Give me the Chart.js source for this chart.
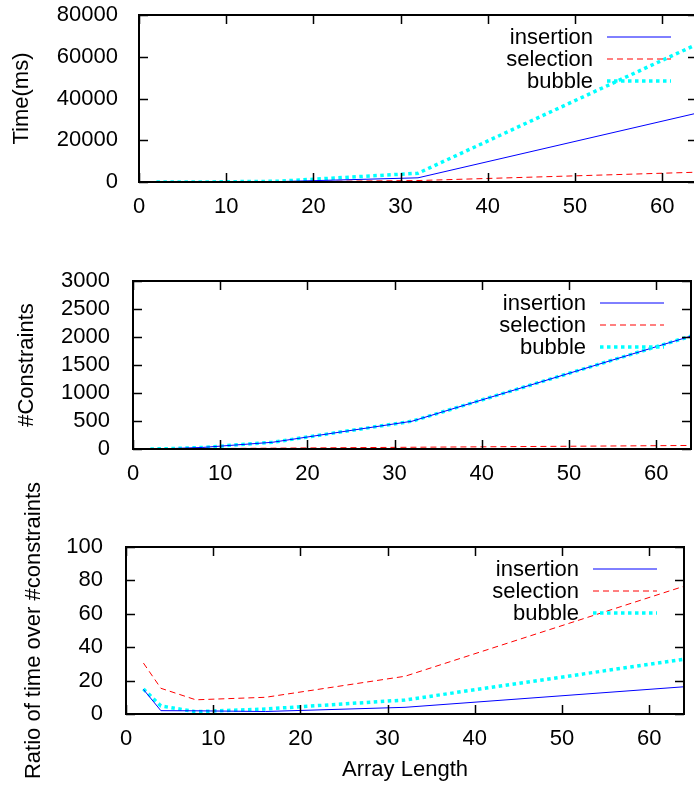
<!DOCTYPE html>
<html>
<head>
<meta charset="utf-8">
<script src="https://cdn.jsdelivr.net/npm/chart.js@4.4.1/dist/chart.umd.min.js"></script>
<style>
  html, body { margin: 0; padding: 0; background: #fff; width: 694px; height: 788px; overflow: hidden; }
  .panel { position: absolute; left: 0; }
</style>
</head>
<body>
<canvas id="c1" class="panel" style="top:0px" width="700" height="240"></canvas>
<canvas id="c2" class="panel" style="top:250px" width="700" height="240"></canvas>
<canvas id="c3" class="panel" style="top:460px" width="700" height="328"></canvas>
<script>
// array lengths on the x axis
const arrayLength = [2, 4, 8, 16, 32, 64];
const seriesNames = ['insertion', 'selection', 'bubble'];

// time (ms)
const timeInsertion = [15, 12, 56, 180, 2000, 33000];
const timeSelection = [30, 46, 59, 150, 700, 4700];
const timeBubble = [15, 29, 40, 360, 4200, 66000];

// #constraints
const consInsertion = [1, 6, 28, 120, 496, 2016];
const consSelection = [1, 3, 7, 15, 31, 63];
const consBubble = [1, 6, 28, 120, 496, 2016];

// ratio of time over #constraints
const ratioInsertion = [14.7, 2, 1.9, 1.5, 4, 16.3];
const ratioSelection = [30.5, 15.4, 8.5, 10, 22.6, 76.5];
const ratioBubble = [15, 4.8, 1.4, 3, 8.4, 32.8];

const xTicks = [0, 10, 20, 30, 40, 50, 60];
const xRange = [0, 64];
const timeTicks = [0, 20000, 40000, 60000, 80000];
const consTicks = [0, 500, 1000, 1500, 2000, 2500, 3000];
const ratioTicks = [0, 20, 40, 60, 80, 100];

const FONT = { family: '"Liberation Sans", Arial, sans-serif', size: 22 };

const styles = [
  { borderColor: '#0000ff', borderWidth: 1, borderDash: [] },
  { borderColor: '#ff0000', borderWidth: 1, borderDash: [6, 4] },
  { borderColor: '#00ffff', borderWidth: 3.5, borderDash: [3.5, 3.5] }
];

function makeSets(a, b, c) {
  return [a, b, c].map((vals, i) => ({
    label: seriesNames[i],
    data: vals.map((v, k) => ({ x: arrayLength[k], y: v })),
    borderColor: styles[i].borderColor,
    borderWidth: styles[i].borderWidth,
    borderDash: styles[i].borderDash,
    borderCapStyle: 'butt',
    pointRadius: 0,
    tension: 0,
    fill: false
  }));
}

// frame with inward mirrored ticks + gnuplot style key
const frame = {
  id: 'frame',
  afterDatasetsDraw(chart, args, opts) {
    const { ctx, chartArea: a, scales: { x, y } } = chart;
    ctx.save();
    ctx.strokeStyle = '#000';
    ctx.lineWidth = 1.5;
    ctx.beginPath();
    x.ticks.forEach(t => {
      const px = Math.round(x.getPixelForValue(t.value)) + 0.5;
      ctx.moveTo(px, a.bottom); ctx.lineTo(px, a.bottom - 9);
      ctx.moveTo(px, a.top); ctx.lineTo(px, a.top + 9);
    });
    y.ticks.forEach(t => {
      const py = Math.round(y.getPixelForValue(t.value)) + 0.5;
      ctx.moveTo(a.left, py); ctx.lineTo(a.left + 9, py);
      ctx.moveTo(a.right, py); ctx.lineTo(a.right - 9, py);
    });
    ctx.stroke();
    ctx.lineWidth = 2;
    ctx.strokeRect(a.left, a.top, a.right - a.left, a.bottom - a.top);

    // key
    ctx.font = `${FONT.size}px ${FONT.family}`;
    ctx.textAlign = 'right';
    ctx.textBaseline = 'middle';
    chart.data.datasets.forEach((ds, i) => {
      const ty = opts.keyTop + i * 22;
      ctx.fillStyle = '#000';
      ctx.fillText(ds.label, opts.keyRight, ty + 1);
      ctx.strokeStyle = ds.borderColor;
      ctx.lineWidth = ds.borderWidth;
      ctx.setLineDash(ds.borderDash);
      ctx.beginPath();
      ctx.moveTo(opts.keyRight + 14, ty);
      ctx.lineTo(opts.keyRight + 78, ty);
      ctx.stroke();
      ctx.setLineDash([]);
    });
    ctx.restore();
  }
};

function makeChart(id, sets, yTicks, p) {
  return new Chart(document.getElementById(id), {
    type: 'line',
    data: { datasets: sets },
    plugins: [frame],
    options: {
      responsive: false,
      animation: false,
      layout: { padding: { top: p.top, right: p.right, bottom: p.padBottom, left: 0 } },
      plugins: {
        legend: { display: false },
        tooltip: { enabled: false },
        frame: { keyRight: p.keyRight, keyTop: p.keyTop }
      },
      scales: {
        x: {
          type: 'linear',
          min: xRange[0],
          max: xRange[1],
          grid: { display: false },
          border: { display: false },
          afterBuildTicks: s => { s.ticks = xTicks.map(v => ({ value: v })); },
          afterFit: s => { s.height = p.xHeight; s.paddingLeft = 0; s.paddingRight = 0; },
          ticks: { font: FONT, color: '#000', padding: 4, maxRotation: 0, autoSkip: false, callback: v => String(v) },
          title: {
            display: !!p.xTitle,
            text: p.xTitle || '',
            font: FONT,
            color: '#000',
            padding: { top: 0, bottom: 5 }
          }
        },
        y: {
          min: yTicks[0],
          max: yTicks[yTicks.length - 1],
          grid: { display: false },
          border: { display: false },
          afterBuildTicks: s => { s.ticks = yTicks.map(v => ({ value: v })); },
          afterFit: s => { s.width = p.left; s.paddingTop = 0; s.paddingBottom = 0; },
          ticks: { font: FONT, color: '#000', padding: p.labelGap, autoSkip: false, callback: v => String(v) },
          title: {
            display: true,
            text: p.yTitle,
            font: FONT,
            color: '#000',
            padding: { top: p.yTitlePad, bottom: 0 }
          }
        }
      }
    }
  });
}

makeChart('c1', makeSets(timeInsertion, timeSelection, timeBubble), timeTicks,
  { top: 15, right: 3, left: 139, xHeight: 50, padBottom: 8, labelGap: 13,
    yTitle: 'Time(ms)', yTitlePad: 9, keyRight: 593, keyTop: 37 });

makeChart('c2', makeSets(consInsertion, consSelection, consBubble), consTicks,
  { top: 31, right: 9, left: 133, xHeight: 40, padBottom: 1, labelGap: 15,
    yTitle: '#Constraints', yTitlePad: 14, keyRight: 586, keyTop: 53 });

makeChart('c3', makeSets(ratioInsertion, ratioSelection, ratioBubble), ratioTicks,
  { top: 87, right: 16, left: 126, xHeight: 74, padBottom: 0, labelGap: 15,
    yTitle: 'Ratio of time over #constraints', yTitlePad: 21, keyRight: 579, keyTop: 109,
    xTitle: 'Array Length' });
</script>
</body>
</html>
